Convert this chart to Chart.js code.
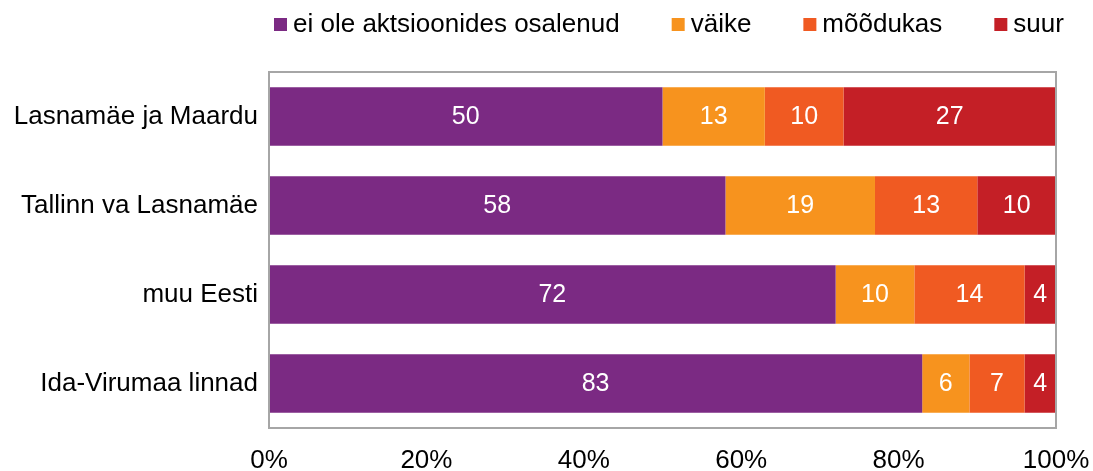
<!DOCTYPE html>
<html>
<head>
<meta charset="utf-8">
<script src="https://cdn.jsdelivr.net/npm/chart.js@4"></script>
<style>
  html, body { margin: 0; padding: 0; background: #fff; }
  #wrap { width: 1093px; height: 471px; }
</style>
</head>
<body>
<div id="wrap"><canvas id="chart" width="1093" height="471"></canvas></div>
<script>
// categories and series
let regions = ['Lasnamäe ja Maardu', 'Tallinn va Lasnamäe', 'muu Eesti', 'Ida-Virumaa linnad'];
let seriesNames = ['ei ole aktsioonides osalenud', 'väike', 'mõõdukas', 'suur'];
let notJoined = [50, 58, 72, 83];
let small = [13, 19, 10, 6];
let moderate = [10, 13, 14, 7];
let large = [27, 10, 4, 4];
let xTicks = [0, 20, 40, 60, 80, 100];

let colors = ['#7B2A83', '#F7931E', '#F05A22', '#C41F26'];
let seriesValues = [notJoined, small, moderate, large];
let fontFamily = '"Liberation Sans", Arial, sans-serif';

// white value labels inside the bars
let valueLabels = {
    id: 'valueLabels',
    afterDatasetsDraw(chart) {
        let ctx = chart.ctx;
        ctx.save();
        ctx.fillStyle = '#fff';
        ctx.font = '25px ' + fontFamily;
        ctx.textAlign = 'center';
        ctx.textBaseline = 'middle';
        chart.data.datasets.forEach(function (ds, i) {
            chart.getDatasetMeta(i).data.forEach(function (bar, j) {
                let p = bar.getCenterPoint();
                ctx.fillText(ds.data[j], p.x, p.y + 1);
            });
        });
        ctx.restore();
    }
};

// grey frame round the plot area
let plotFrame = {
    id: 'plotFrame',
    afterDraw(chart) {
        let a = chart.chartArea;
        let ctx = chart.ctx;
        ctx.save();
        ctx.strokeStyle = '#A6A6A6';
        ctx.lineWidth = 2;
        ctx.strokeRect(a.left, a.top, a.right - a.left, a.bottom - a.top);
        ctx.restore();
    }
};

// legend row above the plot, left edge lined up with the plot
let topLegend = {
    id: 'topLegend',
    afterDraw(chart) {
        let ctx = chart.ctx;
        let x = chart.chartArea.left + 5;
        ctx.save();
        ctx.font = '26px ' + fontFamily;
        ctx.textBaseline = 'alphabetic';
        ctx.textAlign = 'left';
        chart.data.datasets.forEach(function (ds) {
            ctx.fillStyle = ds.backgroundColor;
            ctx.fillRect(x, 18, 13, 13);
            ctx.fillStyle = '#000';
            ctx.fillText(ds.label, x + 19, 32);
            x += 19 + ctx.measureText(ds.label).width + 52;
        });
        ctx.restore();
    }
};

let ctx = document.getElementById('chart').getContext('2d');
let chart = new Chart(ctx, {
    type: 'bar',
    data: {
        labels: regions,
        datasets: seriesValues.map(function (vals, i) {
            return {
                label: seriesNames[i],
                data: vals,
                backgroundColor: colors[i],
                borderWidth: 0,
                barPercentage: 0.66,
                categoryPercentage: 1
            };
        })
    },
    options: {
        indexAxis: 'y',
        responsive: false,
        animation: false,
        layout: { padding: { left: 0, right: 37, top: 72, bottom: 0 } },
        plugins: {
            legend: { display: false },
            tooltip: { enabled: false }
        },
        scales: {
            x: {
                stacked: true,
                min: 0,
                max: 100,
                afterBuildTicks: function (axis) {
                    axis.ticks = xTicks.map(function (v) { return { value: v }; });
                },
                grid: { display: false, drawTicks: false },
                border: { display: false },
                ticks: {
                    padding: 17,
                    color: '#000',
                    maxRotation: 0,
                    callback: function (v) { return v + '%'; },
                    font: { size: 26, family: fontFamily }
                },
                afterFit: function (axis) {
                    axis.height = 43;
                    axis.paddingLeft = 0;
                    axis.paddingRight = 0;
                }
            },
            y: {
                stacked: true,
                grid: { display: false, drawTicks: false },
                border: { display: false },
                ticks: {
                    padding: 11,
                    color: '#000',
                    font: { size: 26, family: fontFamily }
                },
                afterFit: function (axis) { axis.width = 269; }
            }
        }
    },
    plugins: [valueLabels, plotFrame, topLegend]
});
</script>
</body>
</html>
